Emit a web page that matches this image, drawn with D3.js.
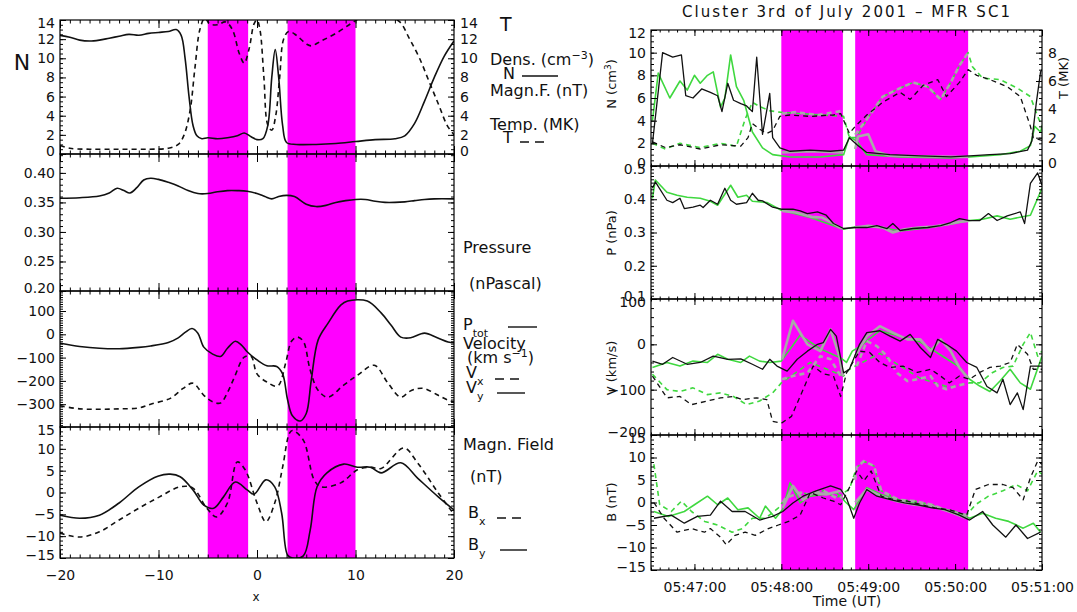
<!DOCTYPE html>
<html>
<head>
<meta charset="utf-8">
<script src="https://cdn.jsdelivr.net/npm/d3@7"></script>
<style>
  body { margin: 0; background: #fff; }
  svg { font-family: "DejaVu Sans", sans-serif; }
  .axis path.domain { display: none; }
  .axis line { stroke: #000; stroke-width: 1; }
  .axis text { fill: #111; font-size: 14px; font-family: "DejaVu Sans", sans-serif; }
  .lbl { fill: #111; font-size: 16px; }
</style>
</head>
<body>
<script>
// ---------------- left: model profiles (x from -20 to 20) ----------------
var bandsLeft = [[-5, -0.9], [3.1, 10]];
var densModel = [[-20,12.4],[-19,12.2],[-18,11.9],[-17,11.8],[-16,11.9],[-15,12.1],[-14,12.3],[-13,12.5],[-12,12.4],[-11,12.6],[-10,12.7],[-9,12.8],[-8.2,13.0],[-7.7,12.4],[-7.3,10],[-6.9,6],[-6.5,3],[-6.1,1.9],[-5.6,1.6],[-5,1.7],[-4,1.6],[-3,1.7],[-2,1.9],[-1.3,2.2],[-0.6,1.8],[0,1.5],[0.6,1.6],[1.1,3],[1.5,8],[1.85,10.9],[2.2,8],[2.6,3],[3,1.2],[4,1.0],[6,1.0],[8,1.1],[10,1.3],[12,1.5],[14,1.6],[15,1.9],[16,3.2],[17,5.5],[18,8],[19,10.2],[20,11.8]];
var tempModel = [[-20,0.9],[-19,0.6],[-17,0.5],[-14,0.5],[-11,0.5],[-9,0.6],[-8,1.0],[-7.4,2.0],[-6.8,4.5],[-6.3,9],[-5.8,13],[-5.3,14.2],[-4.8,13.6],[-4,13.5],[-3.2,13.8],[-2.5,13],[-1.8,10.5],[-1.3,9.5],[-0.8,11],[-0.3,13.6],[0,14],[0.3,13],[0.7,8],[1.1,3],[1.5,2.5],[1.9,4],[2.3,8],[2.7,12],[3.2,12.8],[4,12.4],[5,11.5],[5.5,11.3],[6.5,11.8],[8,12.6],[9.5,13.6],[10.5,14.2],[12,14.4],[13.5,14.3],[14.5,13.8],[15.5,12],[16.5,10],[17.5,7.5],[18.5,5],[19.3,3],[20,2]];
var presModel = [[-20,0.357],[-18,0.358],[-16,0.361],[-15,0.366],[-14.2,0.374],[-13.5,0.37],[-12.9,0.366],[-12.2,0.375],[-11.5,0.388],[-10.8,0.391],[-10,0.389],[-9,0.384],[-8,0.378],[-7,0.370],[-6,0.365],[-5,0.365],[-4,0.368],[-3,0.370],[-2,0.370],[-1,0.369],[0,0.365],[0.8,0.360],[1.5,0.356],[2.2,0.36],[3,0.362],[3.8,0.36],[5,0.347],[6,0.343],[7,0.345],[8,0.35],[9,0.353],[10,0.355],[11,0.355],[12,0.352],[13,0.350],[14,0.350],[15,0.351],[16,0.353],[17,0.355],[18,0.356],[20,0.356]];
var vxModel = [[-20,-307],[-18,-320],[-16,-322],[-14,-320],[-12,-316],[-10.8,-300],[-8.8,-275],[-7.5,-232],[-6.5,-210],[-5.4,-262],[-4.5,-290],[-3.7,-295],[-3,-250],[-2.3,-185],[-1.3,-98],[-0.6,-95],[0,-170],[1,-205],[2.1,-222],[2.9,-125],[3.5,-30],[4.1,-12],[4.7,-30],[5.4,-153],[6.2,-240],[7.2,-270],[8.8,-218],[10.2,-176],[11.9,-133],[13.3,-210],[14.6,-270],[15.5,-245],[16.3,-233],[17,-233],[18.4,-262],[19.4,-283],[20,-290]];
var vyModel = [[-20,-38],[-18,-52],[-16,-60],[-14,-62],[-12,-56],[-10.8,-50],[-9,-35],[-8,-15],[-7.3,8],[-6.6,25],[-6,5],[-5.4,-55],[-4.5,-85],[-3.7,-95],[-3,-60],[-2.2,-30],[-1.6,-45],[-1,-75],[0,-110],[1,-135],[2,-138],[2.6,-170],[3.1,-280],[3.6,-350],[4.4,-372],[5,-340],[5.5,-200],[6.2,-25],[7.2,47],[8.5,125],[9.2,143],[11.2,143],[12.6,92],[13.6,40],[14.6,-12],[15.6,-15],[17,5],[18.3,-15],[19.4,-33],[20,-36]];
var bxModel = [[-20,-9.3],[-18,-10.2],[-16,-9],[-14,-6.3],[-12,-3.6],[-9.9,-1],[-7.8,1.3],[-6.5,1],[-5.1,-3.6],[-4.1,-5.6],[-3,-2.4],[-2,7],[-1.2,5.2],[0,-2.4],[0.9,-6.7],[1.8,-2.4],[2.6,5.8],[3.3,13.6],[3.6,14.2],[4.7,12],[5.8,2.9],[6.5,1.3],[8.5,2.2],[10.2,5.2],[11.5,5.8],[12.6,5.5],[14.9,10.2],[16.3,6.8],[18.4,-0.1],[19.9,-4.7]];
var byModel = [[-20,-5.2],[-18,-5.9],[-16,-5.2],[-14,-2.4],[-12,1.3],[-10,3.8],[-8.8,4.2],[-7.8,3.6],[-6.5,0.6],[-5.4,-2.9],[-4.4,-3.6],[-3.4,-1],[-2.2,2.4],[-1,0.6],[-0.3,-0.4],[0.9,2.9],[1.8,1.3],[2.5,-4.7],[3.1,-14.3],[3.6,-15],[4.7,-14.5],[5.4,-8.6],[6.1,1.3],[7.1,4.5],[8.8,6.5],[10.2,5.8],[11.5,5.8],[12.6,4.5],[14.6,6.8],[16.3,3.3],[18.4,-1],[20,-4]];

// ---------------- right: Cluster SC1 data (seconds after 05:46:00) ----------------
var bandsRight = [[120, 162.5], [171, 249]];
var nBlack = [[31,2.0],[38,10.0],[45,9.6],[51,9.8],[54,6.2],[59,6.0],[65,6.8],[71,6.5],[76,6.2],[79,4.8],[83,7.3],[87,5.8],[92,5.5],[96,5.3],[100,4.8],[103,9.6],[107,2.8],[112,6.4],[114,2.5],[119,1.6],[126,1.3],[140,1.4],[154,1.3],[163,1.4],[167,2.5],[172,1.9],[179,1.2],[195,1.0],[216,0.9],[237,0.8],[250,0.9],[264,1.0],[278,1.1],[290,1.4],[293,2.2],[296,5.5],[299,8.3],[300,8.5]];
var nGreen = [[31,4.0],[35,8.2],[43,6.0],[50,7.5],[55,6.7],[60,8.0],[64,7.3],[69,8.0],[73,8.3],[78,5.2],[81,6.0],[85,9.8],[89,7.0],[94,5.8],[100,3.0],[107,1.6],[114,1.0],[126,0.8],[147,0.8],[163,1.0],[167,2.6],[172,2.2],[179,1.0],[202,0.8],[237,0.7],[250,0.8],[271,1.0],[285,1.3],[292,1.8],[295,3.5],[299,3.0],[300,3.5]];
var nGray = [[[120.5,1.2],[140,1.3],[162.5,1.2]], [[171,1.5],[173,2.6],[180,2.8],[185,1.3],[195,0.9],[249,0.8]]];
var tBlack = [[31,1.7],[40,1.3],[50,1.5],[64,1.2],[78,1.5],[92,1.4],[97,2.0],[100,3.0],[105,2.6],[110,2.3],[114,2.5],[119,3.5],[126,3.6],[140,3.5],[156,3.6],[161,3.7],[167,2.3],[171,2.8],[179,3.6],[190,4.5],[202,5.2],[209,4.7],[218,5.7],[228,6.1],[234,4.9],[243,5.9],[249,6.8],[255,6.4],[264,6.1],[276,5.6],[285,4.9],[292,2.8],[294,2.0],[300,1.8]];
var tGreen = [[31,1.6],[40,1.2],[50,1.6],[64,1.3],[78,1.6],[89,1.4],[95,3.3],[100,4.5],[105,4.2],[112,3.9],[119,3.8],[133,3.7],[163,3.5],[167,2.0],[172,2.0],[179,3.3],[190,4.9],[202,5.5],[211,5.9],[221,5.6],[230,4.7],[237,5.9],[243,7.1],[249,8.0],[252,7.0],[259,6.2],[271,6.1],[283,5.5],[292,4.9],[297,3.5],[300,2.8]];
var tGray = [[[120.5,3.7],[130,3.8],[145,3.6],[162.5,3.9]], [[171,2.2],[179,3.3],[190,4.9],[202,5.5],[211,5.9],[221,5.6],[230,4.7],[237,5.9],[243,7.1],[249,8.0]]];

var pBlack = [[31,0.433],[33,0.452],[41,0.397],[45,0.39],[50,0.403],[53,0.372],[59,0.376],[64,0.382],[66,0.375],[71,0.397],[76,0.385],[81,0.433],[85,0.397],[89,0.385],[96,0.39],[100,0.418],[104,0.397],[107,0.395],[114,0.376],[120,0.37],[128,0.37],[133,0.365],[138,0.357],[145,0.362],[151,0.352],[156,0.327],[163,0.312],[172,0.315],[179,0.315],[186,0.321],[193,0.312],[197,0.327],[202,0.306],[211,0.312],[221,0.315],[230,0.321],[237,0.33],[243,0.342],[250,0.336],[257,0.336],[263,0.357],[269,0.336],[276,0.35],[285,0.362],[288,0.327],[292,0.448],[297,0.479],[300,0.442]];
var pGreen = [[31,0.403],[33,0.458],[41,0.421],[48,0.412],[55,0.406],[64,0.403],[71,0.394],[76,0.382],[85,0.442],[90,0.406],[96,0.412],[100,0.394],[110,0.39],[120,0.367],[140,0.345],[163,0.31],[172,0.318],[188,0.315],[202,0.305],[223,0.315],[243,0.33],[250,0.336],[259,0.34],[269,0.35],[278,0.34],[292,0.352],[300,0.433]];
var pGray = [[[120.5,0.365],[130,0.36],[141,0.347],[148,0.345],[155,0.33],[160,0.315],[162.5,0.313]], [[171,0.315],[180,0.32],[190,0.315],[197,0.30],[205,0.31],[215,0.315],[225,0.318],[235,0.325],[243,0.332],[249,0.335]]];

var vBlack = [[31,-37],[38,-44],[45,-29],[55,-44],[64,-40],[73,-26],[83,-33],[92,-32],[100,-44],[107,-55],[112,-33],[117,-48],[124,-59],[131,-33],[138,-15],[145,0],[149,4],[154,33],[158,18],[163,-63],[167,-55],[174,0],[179,26],[188,30],[195,18],[202,7],[209,22],[216,-7],[223,-29],[228,11],[234,0],[241,-15],[248,-40],[255,-51],[262,-93],[269,-107],[273,-77],[278,-133],[283,-107],[287,-144],[292,-48],[300,-48]];
var vGreen = [[31,-51],[41,-40],[50,-48],[59,-37],[69,-40],[76,-22],[83,-33],[92,-40],[98,-26],[105,-37],[112,-40],[120,-37],[133,20],[147,-10],[161,-30],[165,-40],[169,-15],[174,-5],[188,30],[216,5],[243,-50],[250,-77],[257,-92],[264,-104],[271,-81],[278,-55],[285,-85],[292,-99],[300,-26]];
var vGray = [[[120.5,-33],[128,52],[138,0],[147,-15],[154,33],[160,-26],[162.5,-70]], [[171,-26],[179,18],[188,40],[197,26],[207,11],[216,11],[223,-15],[230,11],[237,-15],[243,-52],[249,-75]]];
var vdBlack = [[31,-70],[41,-118],[50,-115],[58,-133],[69,-125],[78,-118],[87,-115],[93,-122],[103,-118],[110,-122],[114,-170],[120,-174],[127,-159],[135,-100],[142,-48],[149,-65],[156,-70],[161,-115],[165,-63],[174,-15],[181,-18],[188,-40],[195,-51],[204,-48],[214,-62],[223,-55],[230,-70],[236,-85],[243,-70],[250,-77],[257,-62],[264,-51],[271,-48],[278,-40],[283,0],[290,-22],[294,-55],[300,-55]];
var vdGreen = [[31,-66],[41,-100],[50,-104],[59,-96],[69,-111],[78,-107],[87,-115],[96,-133],[105,-125],[114,-107],[120,-85],[140,-40],[163,-70],[167,-55],[171,-48],[188,-20],[216,-75],[236,-95],[250,-85],[257,-85],[266,-62],[273,-51],[280,-48],[287,0],[292,26],[297,-26],[300,-15]];
var vdGray = [[[120.5,-77],[128,-70],[138,-63],[147,-26],[154,-33],[161,-70]], [[172,-48],[179,7],[186,-4],[193,-26],[200,-63],[207,-81],[214,-77],[223,-70],[228,-92],[234,-99],[241,-92],[249,-85]]];

var bBlack = [[32,-3.5],[44,-2.8],[53,-4.6],[62,-3.1],[71,-2.8],[78,0.3],[86,-2],[95,-2],[105,-3.9],[114,-3.1],[121,-2],[128,-0.1],[135,1.4],[144,2.6],[154,3.7],[161,2.9],[165,1],[170,-3.5],[174,-0.1],[179,2.9],[186,1.4],[196,0.6],[205,-0.1],[214,-0.5],[224,-1.2],[233,-1.6],[243,-2.8],[250,-3.9],[259,-2],[266,-5],[275,-7.7],[282,-5],[290,-8],[299,-6.6]];
var bGreen = [[32,-2],[42,-3.1],[53,-2],[60,-0.5],[69,1.4],[76,-0.5],[83,1],[90,-1.6],[97,-1.2],[105,-3.5],[109,-0.8],[116,-3.5],[121,-1.5],[126,4.4],[133,-0.1],[140,1.4],[149,1.8],[158,2.2],[165,-0.1],[170,-1.6],[179,3.3],[189,1.8],[202,0.5],[223,-0.8],[240,-2.0],[250,-3.5],[259,-2.4],[268,-3.5],[277,-4.2],[287,-5.7],[294,-4.6],[299,-6.6]];
var bGray = [[[121,-1.2],[128,3.7],[135,0.6],[142,2.2],[151,1.8],[161,2.6],[162.5,2.4]], [[171,0],[179,2.9],[189,1.4],[200,0.3],[212,-0.5],[224,-0.8],[236,-2],[248,-3.5]]];
var bdBlack = [[32,0],[39,-3.5],[48,-6.6],[58,-5.8],[67,-6.6],[71,-5.8],[78,-7.7],[82,-9.4],[88,-7.3],[95,-6.6],[102,-7.3],[111,-5.8],[118,-5],[125,-4.2],[133,-2.8],[140,2.2],[149,1],[156,0.3],[161,-0.5],[167,3.3],[172,7],[177,4.8],[182,7],[189,1.4],[198,0.6],[207,0.3],[217,-0.5],[226,-1.2],[236,-1.6],[248,-2.8],[254,2.9],[263,4],[273,4],[280,3.3],[287,0.6],[292,5.5],[297,9.2],[300,8.5]];
var bdGreen = [[32,8.5],[36,-0.5],[44,-2],[51,0.3],[58,-2],[67,-4.2],[76,-5],[86,-6.6],[93,-5.8],[100,-3.5],[109,-3.5],[118,-1.2],[123,1],[133,2.2],[140,1.8],[149,2.6],[158,1],[167,3],[172,7.8],[177,9.2],[184,8.1],[189,2.6],[201,0.6],[212,0.3],[224,-0.5],[236,-2],[248,-2.8],[254,-0.5],[263,1.4],[273,2.6],[282,4],[290,2.6],[297,7],[300,6.3]];
var bdGray = [[[121,0],[123,1],[133,2.2],[140,1.8],[149,2.6],[158,1],[162.5,1.2]], [[171,5],[172,7.8],[177,9.2],[184,8.1],[189,2.6],[201,0.6],[212,0.3],[224,-0.5],[236,-2],[248,-2.8]]];

// ---------------- drawing ----------------
var svg = d3.select("body").append("svg").attr("width", 1077).attr("height", 612);
svg.append("rect").attr("width", 1077).attr("height", 612).attr("fill", "#fff");

var MAGENTA = "#ff00ff", GREEN = "#3fd83f", GRAY = "#a9a9a9";
var clipCount = 0;

function ticksIn(dom, step) {
  var lo = Math.ceil(Math.min(dom[0], dom[1]) / step - 1e-6);
  var hi = Math.floor(Math.max(dom[0], dom[1]) / step + 1e-6);
  return d3.range(lo, hi + 1).map(function(k) { return +(k * step).toFixed(6); });
}

function clipFor(x, y) {
  var id = "clip" + (clipCount++);
  svg.append("clipPath").attr("id", id).append("rect")
    .attr("x", x.range()[0]).attr("y", y.range()[1])
    .attr("width", x.range()[1] - x.range()[0])
    .attr("height", y.range()[0] - y.range()[1]);
  return "url(#" + id + ")";
}

function drawBands(list, x, y) {
  svg.append("g").selectAll("rect").data(list).enter().append("rect")
    .attr("x", function(d) { return x(d[0]); })
    .attr("width", function(d) { return x(d[1]) - x(d[0]); })
    .attr("y", y.range()[1])
    .attr("height", y.range()[0] - y.range()[1])
    .attr("fill", MAGENTA);
}

function plot(data, x, y, clip, color, width, dash, curve) {
  var line = d3.line().x(function(d) { return x(d[0]); }).y(function(d) { return y(d[1]); });
  if (curve) line.curve(curve);
  svg.append("path")
    .attr("d", line(data))
    .attr("clip-path", clip)
    .attr("fill", "none")
    .attr("stroke", color)
    .attr("stroke-width", width)
    .attr("stroke-linejoin", "round")
    .attr("stroke-dasharray", dash || null);
}

// frame with IDL-like inward ticks on all four sides
function frame(o) {
  var x = o.x, y = o.y;
  var xr = x.range(), yr = y.range();
  var xt = o.xTick || [4, 8];
  var g = svg.append("g").attr("class", "axis");
  function add(fn, scale, step, size, tr, fmt, pad) {
    var a = fn(scale).tickValues(ticksIn(scale.domain(), step)).tickSize(size).tickSizeOuter(0);
    if (fmt) a.tickFormat(fmt).tickPadding(pad); else a.tickFormat("");
    var ax = g.append("g").attr("transform", tr).call(a);
    // labels sitting on a panel edge are nudged inwards a little, as IDL does
    if (fmt && fn !== d3.axisBottom) {
      var d = scale.domain();
      ax.selectAll(".tick text").attr("transform", function(v) {
        if (Math.abs(v - d[1]) < 1e-6) return "translate(0,3)";
        if (Math.abs(v - d[0]) < 1e-6) return "translate(0,-3)";
        return null;
      });
    }
  }
  var tl = "translate(" + xr[0] + ",0)", tr = "translate(" + xr[1] + ",0)";
  var tb = "translate(0," + yr[0] + ")", tt = "translate(0," + yr[1] + ")";
  add(d3.axisLeft, y, o.yMinor, -3, tl);
  add(d3.axisLeft, y, o.yMajor, -6, tl, o.yFmt, 5);
  var ry = o.yRight || y;
  add(d3.axisRight, ry, o.yRightMinor || o.yMinor, -3, tr);
  add(d3.axisRight, ry, o.yRightMajor || o.yMajor, -6, tr, o.yRight ? o.yRightFmt : null, 6);
  add(d3.axisBottom, x, o.xMinor, -xt[0], tb);
  add(d3.axisBottom, x, o.xMajor, -xt[1], tb, o.xFmt, o.xPad || 10);
  add(d3.axisTop, x, o.xMinor, -xt[0], tt);
  add(d3.axisTop, x, o.xMajor, -xt[1], tt);
  g.append("rect")
    .attr("x", xr[0]).attr("y", yr[1])
    .attr("width", xr[1] - xr[0]).attr("height", yr[0] - yr[1])
    .attr("fill", "none").attr("stroke", "#000").attr("stroke-width", 1.2);
}

// ---------- left chart ----------
var xL = d3.scaleLinear().domain([-20, 20]).range([60, 454]);
var yN = d3.scaleLinear().domain([0, 14]).range([154, 20]);
var yP = d3.scaleLinear().domain([0.2, 0.432]).range([291, 154]);
var yV = d3.scaleLinear().domain([-398, 186]).range([427, 291]);
var yB = d3.scaleLinear().domain([-15, 15]).range([558, 427]);
var smooth = d3.curveCatmullRom.alpha(0.5);
var intFmt = d3.format("d");

[yN, yP, yV, yB].forEach(function(y) { drawBands(bandsLeft, xL, y); });

var c = clipFor(xL, yN);
plot(densModel, xL, yN, c, "#111", 1.6, null, smooth);
plot(tempModel, xL, yN, c, "#111", 1.6, "5,4", smooth);
c = clipFor(xL, yP);
plot(presModel, xL, yP, c, "#111", 1.6, null, smooth);
c = clipFor(xL, yV);
plot(vyModel, xL, yV, c, "#111", 1.6, null, smooth);
plot(vxModel, xL, yV, c, "#111", 1.6, "5,4", smooth);
c = clipFor(xL, yB);
plot(byModel, xL, yB, c, "#111", 1.6, null, smooth);
plot(bxModel, xL, yB, c, "#111", 1.6, "5,4", smooth);

var lt8 = [3.5, 8];
frame({ x: xL, y: yN, yMajor: 2, yMinor: 0.5, yFmt: intFmt, yRight: yN, yRightFmt: intFmt, xMajor: 10, xMinor: 1, xTick: lt8 });
frame({ x: xL, y: yP, yMajor: 0.05, yMinor: 0.01, yFmt: d3.format(".2f"), xMajor: 10, xMinor: 1, xTick: lt8 });
frame({ x: xL, y: yV, yMajor: 100, yMinor: 10, yFmt: intFmt, xMajor: 10, xMinor: 1, xTick: lt8 });
frame({ x: xL, y: yB, yMajor: 5, yMinor: 1, yFmt: intFmt, xMajor: 10, xMinor: 1, xFmt: intFmt, xPad: 12, xTick: lt8 });

svg.append("text").attr("class", "lbl").attr("x", 22).attr("y", 70)
  .attr("text-anchor", "middle").style("font-size", "22px").text("N");
svg.append("text").attr("class", "lbl").attr("x", 256).attr("y", 601)
  .attr("text-anchor", "middle").style("font-size", "12px").text("x");

// left legend
function lt(x, y, parts, size) {
  var t = svg.append("text").attr("class", "lbl").attr("x", x).attr("y", y);
  if (size) t.style("font-size", size + "px");
  parts.forEach(function(p) {
    var s = t.append("tspan").text(p[0]);
    if (p[1] === "sup") s.attr("baseline-shift", "super").style("font-size", "11px");
    if (p[1] === "sub") s.attr("baseline-shift", "sub").style("font-size", "11px");
  });
  return t;
}
function key(x1, x2, y, dash) {
  svg.append("line").attr("x1", x1).attr("x2", x2).attr("y1", y).attr("y2", y)
    .attr("stroke", "#111").attr("stroke-width", 1.4).attr("stroke-dasharray", dash || null);
}
lt(500, 31, [["T"]], 19);
lt(490, 65, [["Dens. (cm"], ["\u22123", "sup"], [")"]]);
lt(503, 79, [["N"]]); key(522, 558, 76);
lt(490, 96, [["Magn.F. (nT)"]]);
lt(490, 130, [["Temp. (MK)"]]);
lt(503, 143, [["T"]]); key(520, 548, 142, "9,6");
lt(463, 253, [["Pressure"]]);
lt(469, 289, [["(nPascal)"]]);
lt(463, 330, [["P"], ["tot", "sub"]]); key(508, 537, 327);
lt(463, 349, [["Velocity"]]);
lt(467, 363, [["(km s"], ["\u22121", "sup"], [")"]]);
lt(466, 378, [["V"], ["x", "sub"]]); key(495, 525, 379, "9,6");
lt(466, 393, [["V"], ["y", "sub"]]); key(497, 525, 393);
lt(463, 450, [["Magn. Field"]]);
lt(470, 482, [["(nT)"]]);
lt(468, 518, [["B"], ["x", "sub"]]); key(497, 527, 518, "9,6");
lt(468, 550, [["B"], ["y", "sub"]]); key(500, 527, 550);

// ---------- right chart ----------
var xR = d3.scaleLinear().domain([30, 300]).range([651, 1042]);
var yRN = d3.scaleLinear().domain([0, 12]).range([166, 30]);
var yRT = d3.scaleLinear().domain([0, 9.6]).range([166, 30]);
var yRP = d3.scaleLinear().domain([0.1, 0.5]).range([299, 166]);
var yRV = d3.scaleLinear().domain([-200, 100]).range([435, 299]);
var yRB = d3.scaleLinear().domain([-15, 15]).range([570, 435]);
function timeFmt(t) {
  var m = 46 + Math.floor(t / 60), s = t % 60;
  return "05:" + d3.format("02d")(m) + ":" + d3.format("02d")(s);
}

[yRN, yRP, yRV, yRB].forEach(function(y) { drawBands(bandsRight, xR, y); });

function panelLines(y, yd, solidB, solidG, solidGray, dashB, dashG, dashGray) {
  var cl = clipFor(xR, y);
  plot(dashG, xR, yd, cl, GREEN, 1.6, "5,4");
  plot(solidG, xR, y, cl, GREEN, 1.6);
  dashGray.forEach(function(seg) { plot(seg, xR, yd, cl, GRAY, 2.6, "5,4"); });
  solidGray.forEach(function(seg) { plot(seg, xR, y, cl, GRAY, 2.6); });
  plot(dashB, xR, yd, cl, "#111", 1.3, "5,4");
  plot(solidB, xR, y, cl, "#111", 1.3);
}
panelLines(yRN, yRT, nBlack, nGreen, nGray, tBlack, tGreen, tGray);
panelLines(yRP, yRP, pBlack, pGreen, pGray, [], [], []);
panelLines(yRV, yRV, vBlack, vGreen, vGray, vdBlack, vdGreen, vdGray);
panelLines(yRB, yRB, bBlack, bGreen, bGray, bdBlack, bdGreen, bdGray);

var rt = [2.5, 6];
frame({ x: xR, y: yRN, yMajor: 2, yMinor: 0.5, yFmt: intFmt, yRight: yRT, yRightMajor: 2, yRightMinor: 0.4, yRightFmt: intFmt, xMajor: 60, xMinor: 6, xTick: rt });
frame({ x: xR, y: yRP, yMajor: 0.1, yMinor: 0.01, yFmt: d3.format(".1f"), xMajor: 60, xMinor: 6, xTick: rt });
frame({ x: xR, y: yRV, yMajor: 100, yMinor: 20, yFmt: intFmt, xMajor: 60, xMinor: 6, xTick: rt });
frame({ x: xR, y: yRB, yMajor: 5, yMinor: 1, yFmt: intFmt, xMajor: 60, xMinor: 6, xFmt: timeFmt, xPad: 12, xTick: rt });

svg.append("text").attr("class", "lbl").attr("x", 846).attr("y", 17)
  .attr("text-anchor", "middle").attr("textLength", 328).style("font-size", "15px")
  .text("Cluster 3rd of July 2001  \u2013  MFR SC1");
svg.append("text").attr("class", "lbl").attr("x", 847).attr("y", 606)
  .attr("text-anchor", "middle").style("font-size", "14px").text("Time (UT)");

function vlabel(x, y, parts) {
  var t = svg.append("text").attr("class", "lbl")
    .attr("transform", "translate(" + x + "," + y + ") rotate(-90)")
    .attr("text-anchor", "middle").style("font-size", "13px");
  parts.forEach(function(p) {
    var s = t.append("tspan").text(p[0]);
    if (p[1] === "sup") s.attr("baseline-shift", "super").style("font-size", "9px");
  });
}
vlabel(616, 84, [["N (cm"], ["3", "sup"], [")"]]);
vlabel(1068, 78, [["T (MK)"]]);
vlabel(616, 233, [["P (nPa)"]]);
vlabel(616, 368, [["V (km/s)"]]);
vlabel(616, 502, [["B (nT)"]]);
</script>
</body>
</html>
